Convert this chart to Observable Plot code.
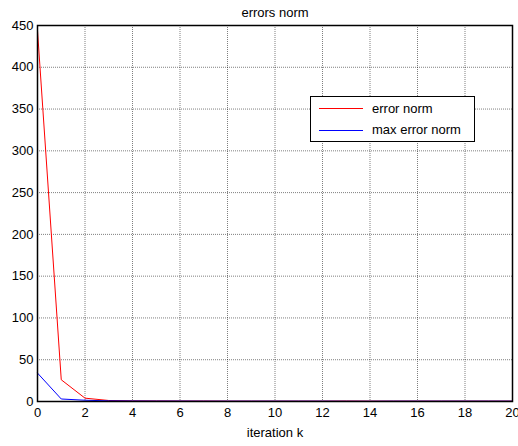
<!DOCTYPE html>
<html>
<head>
<meta charset="utf-8">
<script src="https://cdn.jsdelivr.net/npm/d3@7"></script>
<script src="https://cdn.jsdelivr.net/npm/@observablehq/plot@0.6"></script>
<style>
  body { margin: 0; background: #fff; font-family: "Liberation Sans", Arial, sans-serif; }
  #chart { position: relative; width: 518px; height: 446px; }
  .legend {
    position: absolute; left: 310px; top: 96px; width: 165px; height: 46px;
    border: 1px solid #000; background: #fff; box-sizing: border-box;
    font-size: 13px; color: #000;
  }
  .legend .swatch { position: absolute; left: 8px; width: 44px; height: 1px; }
  .legend .label { position: absolute; left: 61px; line-height: 15px; white-space: nowrap; }
</style>
</head>
<body>
<div id="chart"></div>
<script>
// Iteration index and the two error measures per iteration
const iterations = [0, 1, 2, 3, 4, 5, 6, 7, 8, 9, 10, 11, 12, 13, 14, 15, 16, 17, 18, 19, 20];
const errorNorm = [444, 26, 4, 1.2, 0.8, 0.7, 0.6, 0.6, 0.5, 0.5, 0.5, 0.5, 0.5, 0.6, 0.5, 0.5, 0.5, 0.5, 0.5, 0.5, 0.5];
const maxErrorNorm = [34, 3, 1.5, 0.8, 0.6, 0.5, 0.5, 0.4, 0.4, 0.4, 0.4, 0.4, 0.4, 0.3, 0.3, 0.4, 0.4, 0.4, 0.4, 0.4, 0.4];
const seriesNames = ["error norm", "max error norm"];
const seriesColors = ["#ff0000", "#0000ff"];
const xTicks = [0, 2, 4, 6, 8, 10, 12, 14, 16, 18, 20];
const yTicks = [0, 50, 100, 150, 200, 250, 300, 350, 400, 450];

const rows = iterations.flatMap((k, i) => [
  { k, v: errorNorm[i], s: seriesNames[0] },
  { k, v: maxErrorNorm[i], s: seriesNames[1] }
]);

const gridStyle = { stroke: "#000", strokeOpacity: 0.5, strokeDasharray: "1,1" };

const chart = Plot.plot({
  width: 518,
  height: 446,
  marginLeft: 37,
  marginRight: 6,
  marginTop: 25,
  marginBottom: 45,
  style: { fontFamily: "'Liberation Sans', Arial, sans-serif", fontSize: "13px", color: "#000", background: "#fff", overflow: "visible" },
  x: { domain: [0, 20], label: null },
  y: { domain: [0, 450], label: null },
  color: { domain: seriesNames, range: seriesColors },
  marks: [
    Plot.gridX(xTicks, gridStyle),
    Plot.gridY(yTicks, gridStyle),
    Plot.line(rows.filter(d => d.s === seriesNames[0]), { x: "k", y: "v", stroke: "s", strokeWidth: 1 }),
    Plot.line(rows.filter(d => d.s === seriesNames[1]), { x: "k", y: "v", stroke: "s", strokeWidth: 1 }),
    Plot.frame({ stroke: "#000", strokeWidth: 1.5 }),
    Plot.axisX(xTicks, { tickSize: 0, tickPadding: 6, fontSize: 13 }),
    Plot.axisY(yTicks, { tickSize: 0, tickPadding: 4, fontSize: 13 }),
    Plot.text(["errors norm"], { frameAnchor: "top", dy: -13, lineAnchor: "middle", fontSize: 13 }),
    Plot.text(["iteration k"], { frameAnchor: "bottom", dy: 31, lineAnchor: "middle", fontSize: 13 })
  ]
});

const host = document.getElementById("chart");
host.appendChild(chart);

// Legend box in the upper right of the axes
const legend = document.createElement("div");
legend.className = "legend";
seriesNames.forEach((name, i) => {
  const sw = document.createElement("div");
  sw.className = "swatch";
  sw.style.top = (11 + i * 22) + "px";
  sw.style.background = seriesColors[i];
  const label = document.createElement("div");
  label.className = "label";
  label.style.top = (4 + i * 21) + "px";
  label.textContent = name;
  legend.appendChild(sw);
  legend.appendChild(label);
});
host.appendChild(legend);
</script>
</body>
</html>
